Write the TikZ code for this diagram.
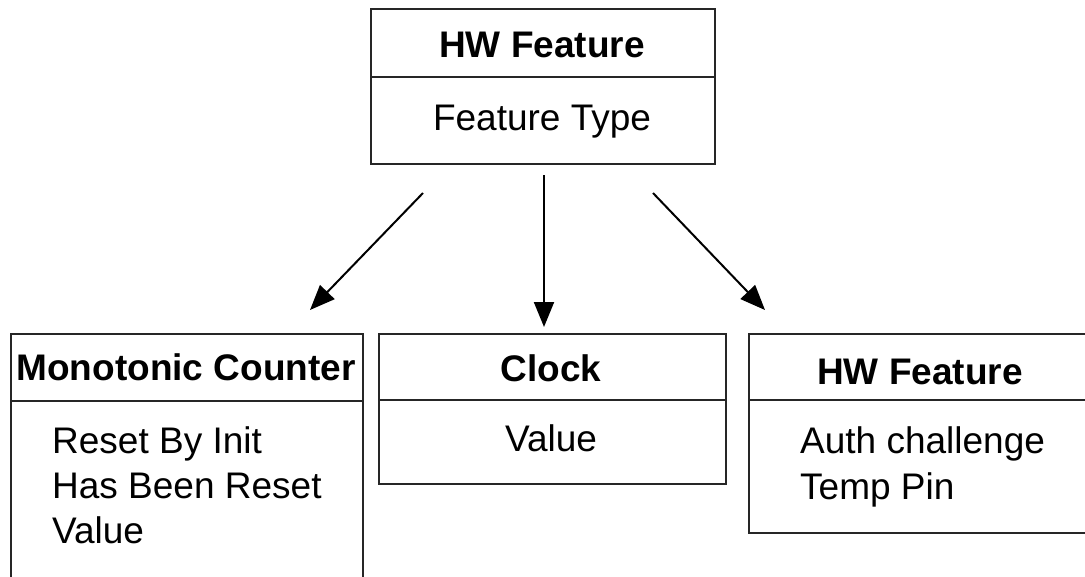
\documentclass[tikz,border=0pt]{standalone}
\usepackage{fontspec}
\setmainfont{Liberation Sans}
\usetikzlibrary{arrows.meta}
\begin{document}
\begin{tikzpicture}[x=1pt,y=-1pt,
  box/.style={draw=black!85, line width=2pt, rectangle, inner sep=0pt, anchor=north west},
  sep/.style={draw=black!85, line width=2pt},
  title/.style={font=\fontsize{37}{44}\selectfont\bfseries, anchor=base, inner sep=0pt},
  attr/.style={font=\fontsize{37}{44}\selectfont, anchor=base west, inner sep=0pt},
  attrc/.style={font=\fontsize{37}{44}\selectfont, anchor=base, inner sep=0pt},
  arr/.style={line width=2pt, -{Triangle[length=25pt,width=20pt]}}]
\useasboundingbox (0,0) rectangle (1085,576);
\clip (0,0) rectangle (1085,576);
% top box
\node[box, minimum width=344pt, minimum height=155pt] (top) at (370,8) {};
\draw[sep] (370,77) -- (714,77);
\node[title] (topt) at (542,57) {HW Feature};
\node[attrc] (topa) at (542,130) {Feature Type};
% monotonic counter
\node[box, minimum width=352pt, minimum height=300pt] (mc) at (10,333) {};
\draw[sep] (10,401) -- (362,401);
\node[title] (mct) at (186,380) {Monotonic Counter};
\node[attr] (mc1) at (52,453) {Reset By Init};
\node[attr] (mc2) at (52,498) {Has Been Reset};
\node[attr] (mc3) at (52,543) {Value};
% clock
\node[box, minimum width=347pt, minimum height=150pt] (clk) at (378,333) {};
\draw[sep] (378,400) -- (725,400);
\node[title] (clkt) at (551,381) {Clock};
\node[attrc] (clka) at (551,451) {Value};
% right hw feature
\node[box, minimum width=400pt, minimum height=199pt] (hw) at (748,333) {};
\draw[sep] (748,400) -- (1148,400);
\node[title] (hwt) at (920,384) {HW Feature};
\node[attr] (hw1) at (800,453) {Auth challenge};
\node[attr] (hw2) at (800,499) {Temp Pin};
% arrows
\coordinate (a1s) at (423,193);
\coordinate (a1e) at (310,310);
\coordinate (a2s) at (544,175);
\coordinate (a2e) at (544,327);
\coordinate (a3s) at (653,193);
\coordinate (a3e) at (765,310);
\draw[arr] (a1s) -- (a1e);
\draw[arr] (a2s) -- (a2e);
\draw[arr] (a3s) -- (a3e);
\end{tikzpicture}
\end{document}
